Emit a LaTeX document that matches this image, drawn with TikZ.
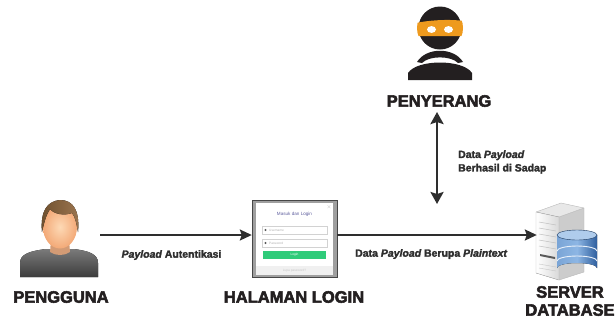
\documentclass[tikz,border=0pt]{standalone}
\usepackage{fontspec}
\setmainfont{Liberation Sans}[BoldFeatures={FakeBold=2.2},BoldItalicFeatures={FakeBold=2.2}]
\newfontfamily\heavyfont{Liberation Sans}[BoldFeatures={FakeBold=3.2}]
\usetikzlibrary{arrows.meta,shapes.geometric}
\definecolor{ink}{HTML}{2E2E2E}
\definecolor{mask}{HTML}{231F20}
\definecolor{band}{HTML}{EE9A1E}
\definecolor{hairA}{HTML}{6E4F2E}
\definecolor{hairB}{HTML}{9C7650}
\definecolor{skinA}{HTML}{FDD9B5}
\definecolor{skinB}{HTML}{F3A977}
\definecolor{shirtA}{HTML}{7A7A7A}
\definecolor{shirtB}{HTML}{3C3C3C}
\definecolor{okgreen}{HTML}{2FCB7A}
\definecolor{dbA}{HTML}{8DB6E4}
\definecolor{dbB}{HTML}{2F5F9E}
\tikzset{
  arr/.style={draw=ink,line width=2pt,-{Stealth[length=12pt,width=11pt,inset=2pt]}},
  dblarr/.style={draw=ink,line width=2.6pt,{Stealth[length=12pt,width=13pt,inset=2pt]}-{Stealth[length=12pt,width=13pt,inset=2pt]}},
  caption/.style={font=\heavyfont\bfseries\fontsize{16.5}{18}\selectfont,text=mask,inner sep=0pt,align=center},
  flowtext/.style={font=\bfseries\fontsize{10.5}{13.5}\selectfont,text=ink,inner sep=0pt},
  anchorbox/.style={draw=none,inner sep=0pt},
  tiny/.style={inner sep=0pt,font=\fontsize{3.2}{4}\selectfont}
}
\begin{document}
\begin{tikzpicture}[x=1pt,y=-1pt]
\useasboundingbox (0,0) rectangle (615,325);

% ---------- attacker ----------
\begin{scope}
  \fill[mask] (440,28) circle (21.5);
  \begin{scope}
    \clip (440,28) circle (23);
    \fill[band] (416,23) .. controls (430,20) and (450,19) .. (464,21) -- (464,36) -- (416,36) -- cycle;
  \end{scope}
  \fill[white] (431.5,29.5) ellipse (4.5 and 3.4);
  \fill[white] (448.5,29.5) ellipse (4.5 and 3.4);
  \fill[mask] (417,62) .. controls (426,47) and (454,47) .. (463,62)
     -- (458,63) .. controls (451,55.5) and (429,55.5) .. (422,63) -- cycle;
  \fill[mask] (408,80) -- (408,73) .. controls (417,59) and (463,59) .. (472,73)
     -- (472,80) -- cycle;
\end{scope}
\node[caption] (attacker) at (439,101) {PENYERANG};

% ---------- user ----------
\node[anchorbox,minimum width=80pt,minimum height=80pt] (user) at (60,235) {};
\fill[top color=shirtA,bottom color=shirtB]
  (20,277) -- (20,263) .. controls (20,254) and (30,251) .. (46,249)
  -- (74,249) .. controls (89,251) and (98,254) .. (98,263) -- (98,277) -- cycle;
\fill[skinB!85!black!90] (51,240) -- (69,240) -- (70,252) .. controls (64,256) and (56,256) .. (50,252) -- cycle;
\shade[inner color=skinA,outer color=skinB] (60,227) ellipse (17 and 21.5);
\fill[left color=hairA,right color=hairB]
  (42,232) .. controls (40,210) and (48,201) .. (60,200)
  .. controls (73,200) and (80,210) .. (78,232)
  .. controls (76.5,224) and (75.5,217) .. (72,213)
  .. controls (64,216) and (54,214) .. (50,209)
  .. controls (46,215) and (44,223) .. (42,232) -- cycle;
\node[caption] (userlabel) at (61,297) {PENGGUNA};

% ---------- login page ----------
\node[anchorbox,minimum width=85pt,minimum height=77pt] (login) at (294.5,238.5) {};
\fill[gray!75] (252,200) rectangle (337,277);
\draw[gray!55!black,line width=0.6pt] (252,200) rectangle (337,277);
\fill[white] (256,203) rectangle (333,275);
\fill[gray!12] (256,266) rectangle (333,275);
\node[tiny,text=blue!25!gray,font=\fontsize{4.6}{5}\selectfont] (logintitle) at (294.5,214) {Masuk dan Login};
\node[tiny,text=gray!60] (closebtn) at (329,207) {$\times$};
\draw[gray!35,line width=0.4pt] (262,226) rectangle (327,234);
\draw[gray!35,line width=0.4pt] (262,239) rectangle (327,247);
\fill[gray!70!black] (265.5,230) circle (1.2);
\fill[gray!70!black] (265.5,243) circle (1.2);
\node[tiny,text=gray!60,anchor=west] (userfield) at (269,230) {Username};
\node[tiny,text=gray!60,anchor=west] (passfield) at (269,243) {Password};
\fill[okgreen] (263,251) rectangle (326,259);
\node[tiny,text=white] (loginbtn) at (294.5,255) {Login};
\node[tiny,text=gray!45] (footer) at (294.5,270.5) {Lupa password?};
\node[caption] (loginlabel) at (294,297) {HALAMAN LOGIN};

% ---------- database server ----------
\node[anchorbox,minimum width=62pt,minimum height=80pt] (server) at (568,240) {};
\fill[gray!18] (536,212) -- (561,203) -- (584,208) -- (559,217) -- cycle;
\fill[left color=white,right color=gray!30] (536,212) -- (559,217) -- (559,280) -- (536,273) -- cycle;
\fill[gray!40] (559,217) -- (584,208) -- (584,272) -- (559,280) -- cycle;
\draw[gray!55,line width=0.4pt] (536,212) -- (561,203) -- (584,208) -- (584,272) -- (559,280) -- (536,273) -- cycle;
\draw[gray!55,line width=0.4pt] (536,212) -- (559,217) -- (584,208) (559,217) -- (559,280);
\foreach \yy in {222,228,234,240,246} {
  \draw[gray!50,line width=0.5pt] (539,\yy) -- (556,\yy+3);
}
\fill[gray!70!black] (540,254) -- (555,257) -- (555,259) -- (540,256) -- cycle;
\foreach \yy in {264,268} {
  \draw[gray!45,line width=0.4pt] (539,\yy) -- (556,\yy+3);
}
% storage cylinder
\fill[left color=dbA!80!dbB,right color=dbB,middle color=dbA]
  (557,235) -- (557,268) arc[start angle=180,end angle=360,x radius=20,y radius=5] -- (597,235) -- cycle;
\fill[dbA!70!white] (577,235) ellipse (20 and 5);
\draw[dbB!60!black,line width=0.4pt] (577,235) ellipse (20 and 5);
\draw[white!80!dbA,line width=0.9pt] (557,251) arc[start angle=180,end angle=360,x radius=20,y radius=5];
\draw[white!80!dbA,line width=0.9pt] (557,261) arc[start angle=180,end angle=360,x radius=20,y radius=5];
\node[caption] (serverlabel) at (570,301) {SERVER\\DATABASE};

% ---------- connectors ----------
\draw[arr] (user.east) -- (user.east -| login.west);
\draw[arr] (login.east |- user.east) -- (server.west |- user.east);
\coordinate (tapTop) at (437,112);
\coordinate (tapBot) at (437,204);
\draw[dblarr] (tapTop) -- (tapBot);

% ---------- connector labels ----------
\node[flowtext] (lblauth) at (171.5,255) {\itshape Payload\upshape{} Autentikasi};
\node[flowtext,anchor=west] (lblplain) at (355,254) {Data \itshape Payload\upshape{} Berupa \itshape Plaintext};
\node[flowtext,anchor=west,align=left] (lbltap) at (458,162) {Data \itshape Payload\\Berhasil di Sadap};
\end{tikzpicture}
\end{document}
